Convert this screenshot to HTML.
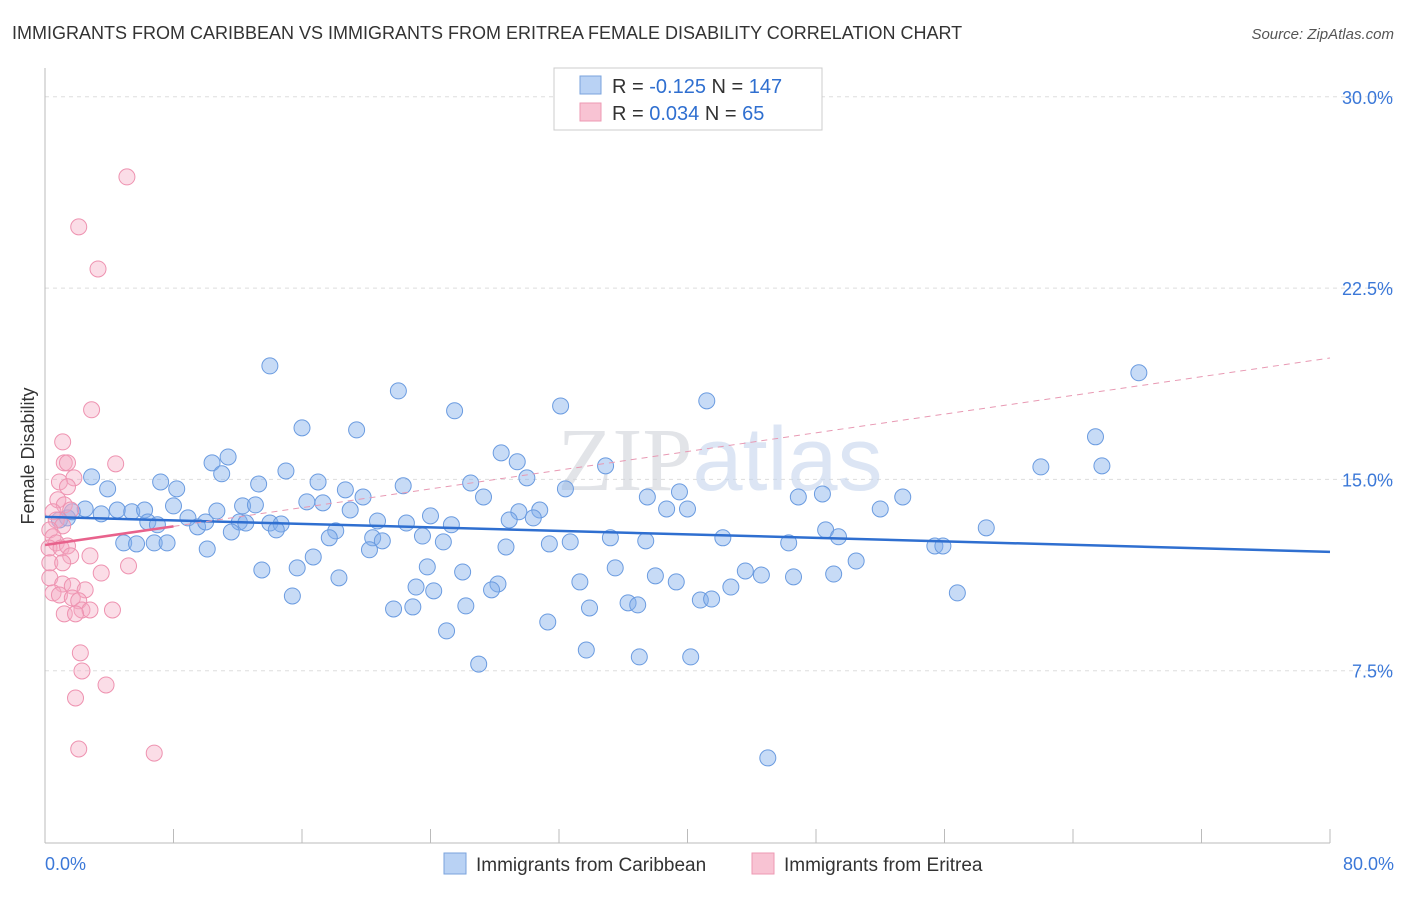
<!DOCTYPE html>
<html><head><meta charset="utf-8"><style>
body{margin:0;background:#fff;font-family:"Liberation Sans",sans-serif;}
svg text{font-family:"Liberation Sans",sans-serif;}
</style></head><body>
<svg id="chart" width="1406" height="892" xmlns="http://www.w3.org/2000/svg">
<text x="12" y="39" font-size="18" fill="#333">IMMIGRANTS FROM CARIBBEAN VS IMMIGRANTS FROM ERITREA FEMALE DISABILITY CORRELATION CHART</text>
<text x="1394" y="39" font-size="15" fill="#555" text-anchor="end" font-style="italic">Source: ZipAtlas.com</text>
<g id="grid"></g>
<text x="720" y="490" font-size="90" fill="#d8dde6" text-anchor="middle" opacity="0.6"><tspan font-family="Liberation Serif" fill="#cfd3da">ZIP</tspan><tspan fill="#c5d5ee">atlas</tspan></text>
<g id="axes"></g>
<g id="pts"></g>
<text transform="translate(34,456) rotate(-90)" font-size="18" fill="#333" text-anchor="middle">Female Disability</text>
<g>
<rect x="554" y="68" width="268" height="62" fill="#fff" stroke="#ccc"/>
<rect x="580" y="76" width="21" height="18" fill="#b9d2f4" stroke="#7aa3dd"/>
<rect x="580" y="103" width="21" height="18" fill="#f8c3d3" stroke="#ee99b3"/>
<text x="612" y="93" font-size="20" fill="#333">R = <tspan fill="#2f6fd0">-0.125</tspan>   N = <tspan fill="#2f6fd0">147</tspan></text>
<text x="612" y="120" font-size="20" fill="#333">R = <tspan fill="#2f6fd0">0.034</tspan>   N = <tspan fill="#2f6fd0"> 65</tspan></text>
</g>
<g>
<rect x="444" y="853" width="22" height="21" fill="#b9d2f4" stroke="#7aa3dd"/>
<text x="476" y="871" font-size="19" fill="#333">Immigrants from Caribbean</text>
<rect x="752" y="853" width="22" height="21" fill="#f8c3d3" stroke="#ee99b3"/>
<text x="784" y="871" font-size="19" fill="#333">Immigrants from Eritrea</text>
</g>
</svg>
<script>
const yTicks=[7.5,15,22.5,30];
const yTickLabels=["7.5%","15.0%","22.5%","30.0%"];
const xTicks=[0,8,16,24,32,40,48,56,64,72,80];
const blueX=[14.0,22.0,68.1,41.2,32.1,25.5,16.0,19.4,65.4,28.4,11.4,10.4,29.4,34.9,62.0,65.8,2.9,7.2,13.3,15.0,11.0,17.0,18.7,22.3,26.5,30.0,32.4,39.5,3.9,8.2,27.3,19.8,37.5,46.9,48.4,53.4,16.3,12.3,13.1,17.3,19.0,29.5,30.8,38.7,40.0,52.0,2.5,4.5,5.4,6.2,8.0,8.9,10.7,0.9,1.4,1.7,3.5,6.4,7.0,9.5,10.0,12.1,12.5,14.0,14.7,20.7,22.5,24.0,25.3,28.9,30.4,48.6,58.6,11.6,14.4,18.1,4.9,5.7,6.8,7.6,10.1,17.7,20.4,21.0,20.2,23.5,24.8,28.7,31.4,32.7,35.2,37.4,42.2,46.3,49.4,55.4,55.9,13.5,15.7,16.7,18.3,23.8,26.0,35.5,33.3,38.0,39.3,43.6,44.6,46.6,49.1,50.5,23.1,24.2,28.2,27.8,42.7,15.4,21.7,22.9,26.2,33.9,36.3,36.9,40.8,41.5,56.8,25.0,31.3,33.7,37.0,40.2,27.0,45.0];
const blueY=[19.45,18.47,19.18,18.08,17.88,17.69,17.02,16.94,16.67,16.04,15.88,15.65,15.69,15.53,15.49,15.53,15.10,14.90,14.82,15.33,15.22,14.90,14.59,14.75,14.86,15.06,14.63,14.51,14.63,14.63,14.31,14.31,14.31,14.31,14.43,14.31,14.12,13.96,14.0,14.08,13.80,13.73,13.80,13.84,13.84,13.84,13.84,13.80,13.73,13.80,13.96,13.49,13.76,13.41,13.49,13.73,13.65,13.33,13.22,13.14,13.33,13.33,13.29,13.29,13.25,13.37,13.29,13.57,13.22,13.41,13.49,13.02,13.10,12.94,13.02,12.98,12.51,12.47,12.51,12.51,12.27,12.71,12.71,12.59,12.24,12.78,12.55,12.35,12.47,12.55,12.71,12.59,12.71,12.51,12.75,12.39,12.39,11.45,11.53,11.96,11.14,11.57,11.37,11.53,10.98,11.22,10.98,11.41,11.25,11.18,11.29,11.80,10.78,10.63,10.90,10.67,10.78,10.43,9.92,10.0,10.04,9.96,10.16,10.08,10.27,10.31,10.55,9.06,9.41,8.31,8.04,8.04,7.76,4.08];
const pinkX=[5.1,2.1,3.3,2.9,1.1,1.2,1.4,4.4,1.8,0.9,1.4,0.8,1.2,1.6,0.5,0.7,1.1,0.3,0.5,0.7,0.25,1.0,1.4,2.8,1.6,0.3,1.1,5.2,3.5,0.3,1.1,1.7,0.5,0.9,2.5,1.7,2.1,2.3,4.2,2.8,1.2,1.9,2.2,2.3,3.8,1.9,2.1,6.8];
const pinkY=[26.86,24.9,23.25,17.73,16.47,15.65,15.65,15.61,15.06,14.9,14.71,14.2,14.0,13.8,13.73,13.41,13.18,13.02,12.75,12.51,12.31,12.31,12.39,12.0,12.0,11.73,11.73,11.61,11.33,11.14,10.9,10.82,10.55,10.47,10.67,10.35,10.24,9.88,9.88,9.88,9.73,9.73,8.2,7.49,6.94,6.43,4.43,4.27];
const blueTrendX=[0,80], blueTrendY=[13.53,12.16];
const pinkTrendX=[0,8,80], pinkTrendY=[12.43,13.16,19.76];
const X0=45,X1=1330,Y0=862,YPX=191.3/7.5;
const sx=v=>X0+(v-0)/80*(X1-X0);
const sy=v=>Y0-v*YPX;
const NS="http://www.w3.org/2000/svg";
function mk(tag,parent,attrs){const e=document.createElementNS(NS,tag);for(const k in attrs)e.setAttribute(k,attrs[k]);parent.appendChild(e);return e;}
const grid=document.getElementById('grid'),axes=document.getElementById('axes'),pts=document.getElementById('pts');
yTicks.forEach((t,i)=>{
 const l=mk('line',grid,{x1:X0,x2:1394,y1:sy(t),y2:sy(t),stroke:'#ddd','stroke-dasharray':'4,4'});
 
 
 const tx=mk('text',grid,{x:1393,y:sy(t)+7,'font-size':18,fill:'#3b78d8','text-anchor':'end'});
 tx.textContent=yTickLabels[i];
 
 
});
const ax=mk('line',axes,{x1:X0,x2:X1,y1:843,y2:843,stroke:'#bbb'});


const ay=mk('line',axes,{x1:X0,x2:X0,y1:68,y2:843,stroke:'#bbb'});


xTicks.forEach(t=>{
 const l=mk('line',axes,{x1:sx(t),x2:sx(t),y1:829,y2:843,stroke:'#bbb'});
 
 
});
const xl0=mk('text',axes,{x:45,y:870,'font-size':18,fill:'#3b78d8'});xl0.textContent='0.0%';


const xl1=mk('text',axes,{x:1394,y:870,'font-size':18,fill:'#3b78d8','text-anchor':'end'});xl1.textContent='80.0%';


blueX.forEach((x,i)=>{
 const c=mk('circle',pts,{cx:sx(x),cy:sy(blueY[i]),r:8,fill:'rgba(130,175,235,0.45)',stroke:'#6a9be0','stroke-width':1});
 
 
});
pinkX.forEach((x,i)=>{
 const c=mk('circle',pts,{cx:sx(x),cy:sy(pinkY[i]),r:8,fill:'rgba(245,170,195,0.4)',stroke:'#ee92b0','stroke-width':1});
 
 
});
const bt=mk('line',pts,{x1:sx(blueTrendX[0]),y1:sy(blueTrendY[0]),x2:sx(blueTrendX[1]),y2:sy(blueTrendY[1]),stroke:'#2f6fd0','stroke-width':2.5});


const ps=mk('line',pts,{x1:sx(pinkTrendX[0]),y1:sy(pinkTrendY[0]),x2:sx(pinkTrendX[1]),y2:sy(pinkTrendY[1]),stroke:'#e8628c','stroke-width':2.5});


const pd=mk('line',pts,{x1:sx(pinkTrendX[1]),y1:sy(pinkTrendY[1]),x2:sx(pinkTrendX[2]),y2:sy(pinkTrendY[2]),stroke:'#e899b3','stroke-width':1,'stroke-dasharray':'6,5'});


</script>
</body></html>
